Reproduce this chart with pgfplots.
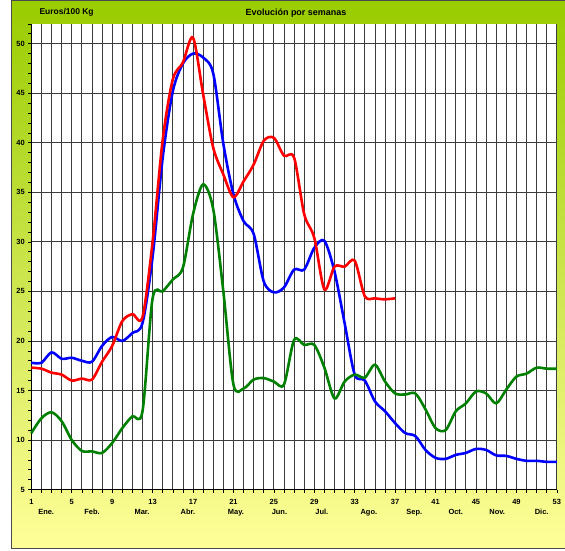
\documentclass[border=0pt]{standalone}
\usepackage{fontspec}
\setmainfont{Liberation Sans}
\usepackage{pgfplots}
\pgfplotsset{compat=1.18}
\definecolor{bgtop}{RGB}{153,204,0}
\definecolor{bgbot}{RGB}{255,255,153}
\definecolor{gridc}{RGB}{60,60,60}
\definecolor{dgreen}{RGB}{0,128,0}
\begin{document}
\begin{tikzpicture}[x=1bp,y=1bp]
\useasboundingbox (0,0) rectangle (565,551);
\shade[top color=bgtop, bottom color=bgbot] (11,2) rectangle (575,550.5);
\draw[black!70, line width=1bp] (575,550.5) -- (11,550.5) -- (11,2) -- (575,2);
\node[anchor=west, font=\bfseries\fontsize{8.5}{10}\selectfont] at (36,539) {Euros/100 Kg};
\node[font=\bfseries\fontsize{9}{10}\selectfont] at (296,538) {Evolución por semanas};
\begin{axis}[
  at={(31,62)}, anchor=south west,
  scale only axis, width=525.5bp, height=465.7bp,
  xmin=1, xmax=53, ymin=5, ymax=52,
  axis background/.style={fill=white},
  axis x line=bottom, axis y line=left,
  axis line style={-, black, line width=0.9bp},
  xtick={1,5,...,53}, minor xtick={1,...,53},
  ytick={5,10,...,50}, minor ytick={5,...,52},
  tick align=outside, major tick length=3bp, minor tick length=3bp,
  tick style={black, line width=0.6bp},
  xmajorgrids=true, xminorgrids=true, ymajorgrids=true,
  major grid style={gridc, line width=0.8bp},
  minor grid style={gridc, line width=0.8bp},
  /pgf/number format/assume math mode=true,
  tick label style={font=\bfseries\fontsize{7.5}{9}\selectfont},
  xticklabel style={yshift=-3bp},
  extra x ticks={2.47,7,11.96,16.5,21.25,25.55,29.75,34.4,38.9,43,47.1,51.5},
  extra x tick labels={Ene.,Feb.,Mar.,Abr.,May.,Jun.,Jul.,Ago.,Sep.,Oct.,Nov.,Dic.},
  extra x tick style={grid=none, major tick length=0pt, tick style={draw=none}, xticklabel style={yshift=-13bp}},
  clip=false,
]
\addplot[blue, line width=2.6bp, smooth, tension=0.5] coordinates {
(1,17.8)(2,17.8)(3,18.85)(4,18.2)(5,18.3)(6,18.0)(7,17.9)(8,19.5)(9,20.4)(10,20.0)
(11,20.8)(12,21.8)(13,28.5)(14,38.5)(15,45.2)(16,48.0)(17,49.0)(18,48.6)(19,47.0)(20,39.9)
(21,34.8)(22,32.1)(23,30.8)(24,26.0)(25,24.9)(26,25.4)(27,27.2)(28,27.2)(29,29.4)(30,30.1)
(31,27.0)(32,21.8)(33,16.6)(34,16.0)(35,13.9)(36,12.9)(37,11.7)(38,10.7)(39,10.4)(40,9.0)
(41,8.2)(42,8.1)(43,8.5)(44,8.7)(45,9.1)(46,9.0)(47,8.45)(48,8.4)(49,8.1)(50,7.9)
(51,7.9)(52,7.8)(53,7.8)};
\addplot[red, line width=2.6bp, smooth, tension=0.5] coordinates {
(1,17.3)(2,17.2)(3,16.8)(4,16.6)(5,16.0)(6,16.2)(7,16.1)(8,17.9)(9,19.5)(10,22.0)
(11,22.7)(12,22.4)(13,30.0)(14,40.3)(15,46.4)(16,48.1)(17,50.6)(18,44.9)(19,39.5)(20,36.8)
(21,34.5)(22,36.1)(23,37.8)(24,40.2)(25,40.5)(26,38.7)(27,38.5)(28,32.8)(29,30.4)(30,25.2)
(31,27.5)(32,27.5)(33,28.1)(34,24.5)(35,24.3)(36,24.2)(37,24.3)};
\addplot[dgreen, line width=2.6bp, smooth, tension=0.5] coordinates {
(1,10.7)(2,12.2)(3,12.8)(4,11.9)(5,10.0)(6,8.9)(7,8.85)(8,8.7)(9,9.7)(10,11.2)
(11,12.4)(12,12.9)(13,24.3)(14,25.0)(15,26.2)(16,27.4)(17,32.8)(18,35.8)(19,33.3)(20,25.0)
(21,15.6)(22,15.2)(23,16.1)(24,16.25)(25,15.9)(26,15.6)(27,20.1)(28,19.6)(29,19.6)(30,17.3)
(31,14.2)(32,15.9)(33,16.6)(34,16.3)(35,17.6)(36,15.9)(37,14.7)(38,14.6)(39,14.7)(40,13.1)
(41,11.2)(42,11.0)(43,12.9)(44,13.7)(45,14.9)(46,14.7)(47,13.7)(48,15.1)(49,16.4)(50,16.7)
(51,17.3)(52,17.2)(53,17.2)};
\end{axis}
\end{tikzpicture}
\end{document}
